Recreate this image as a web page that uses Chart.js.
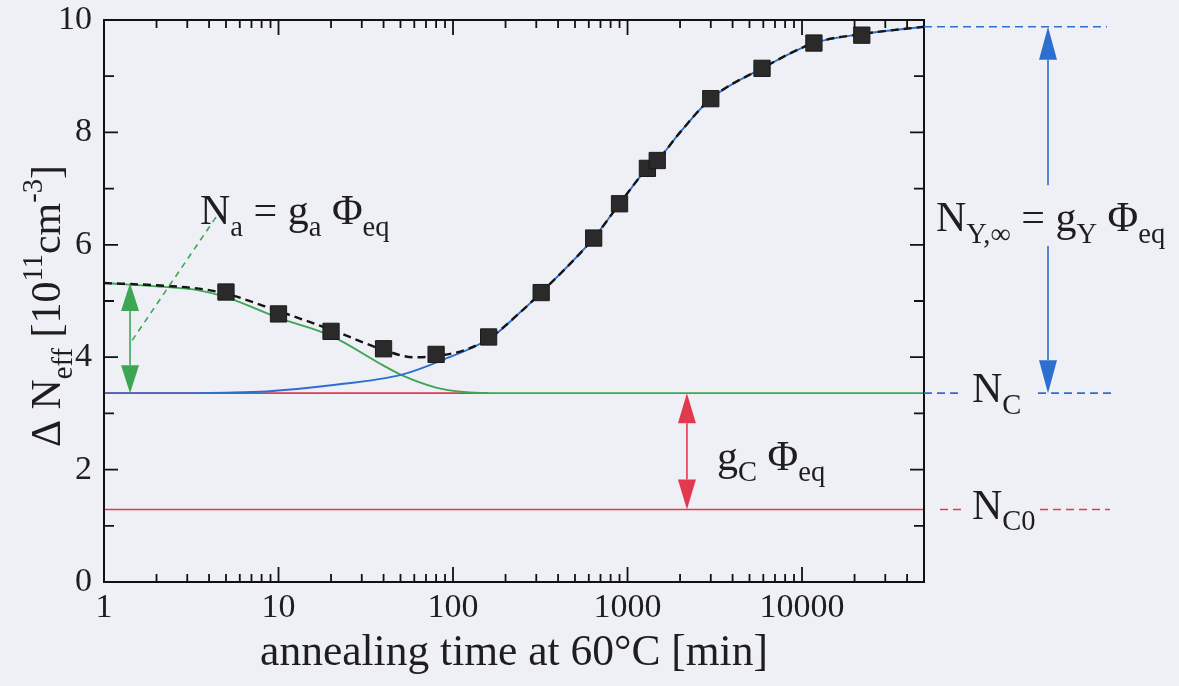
<!DOCTYPE html>
<html>
<head>
<meta charset="utf-8">
<script src="https://cdn.jsdelivr.net/npm/chart.js@4.4.1/dist/chart.umd.min.js"></script>
<style>
    html, body { margin: 0; padding: 0; background: #eff0f5; }
</style>
</head>
<body>
<canvas id="grafica" width="1179" height="686"></canvas>
<script>
// puntos medidos (cuadrados negros)
const tiemposMedidos = [5, 10, 20, 40, 80, 160, 320, 640, 900, 1300, 1480, 3000, 5900, 11700, 22000];
const valoresMedidos = [5.16, 4.77, 4.46, 4.15, 4.05, 4.36, 5.15, 6.12, 6.73, 7.36, 7.50, 8.60, 9.14, 9.59, 9.73];

// curva total (negra discontinua)
const tiemposTotal = [1, 2, 3.5, 5, 10, 20, 40, 59, 80, 120, 167, 241, 320, 640, 900, 1300, 1480, 2000, 3000, 5900, 11700, 22000, 50000];
const valoresTotal = [5.32, 5.28, 5.22, 5.13, 4.82, 4.49, 4.13, 4.00, 4.02, 4.14, 4.37, 4.79, 5.15, 6.12, 6.73, 7.36, 7.50, 8.00, 8.60, 9.14, 9.59, 9.75, 9.88];

// N_C + N_Y (azul)
const tiemposY = [1, 2, 5, 8.5, 20, 51, 84, 167, 241, 320, 640, 900, 1300, 1480, 2000, 3000, 5900, 11700, 22000, 50000];
const valoresY = [3.36, 3.36, 3.37, 3.39, 3.50, 3.69, 3.93, 4.36, 4.79, 5.15, 6.12, 6.73, 7.36, 7.50, 8.00, 8.60, 9.14, 9.59, 9.75, 9.88];

// N_C + N_a (verde)
const tiemposA = [1, 2, 3.5, 5, 10, 20, 40, 50, 80, 115, 160, 50000];
const valoresA = [5.32, 5.26, 5.19, 5.07, 4.70, 4.38, 3.85, 3.69, 3.46, 3.38, 3.36, 3.36];

// niveles constantes (rojo)
const tiemposNC = [1, 160];
const valoresNC = [3.36, 3.36];
const tiemposNC0 = [1, 50000];
const valoresNC0 = [1.29, 1.29];

// ejes
const etiquetasX = [1, 10, 100, 1000, 10000];
const etiquetasY = [0, 2, 4, 6, 8, 10];
const menoresY = [1, 3, 5, 7, 9];

const VERDE = '#3ea653';
const ROJO = '#e2394f';
const AZUL = '#2d6fd0';
const TEXTO = '#1e1e1e';
const FUENTE = "'Liberation Serif', 'DejaVu Serif', serif";

function puntos(xs, ys) {
    return xs.map((x, i) => ({ x: x, y: ys[i] }));
}

function fuente(tam) {
    return `${tam}px ${FUENTE}`;
}

// texto con subindices / superindices
function textoRico(ctx, partes, x, y, tam, alinear) {
    const medir = (p) => {
        ctx.font = fuente(p[1] ? tam * 0.68 : tam);
        return ctx.measureText(p[0]).width;
    };
    let total = 0;
    partes.forEach(p => total += medir(p));
    let cx = alinear === 'center' ? x - total / 2 : x;
    ctx.textAlign = 'left';
    ctx.textBaseline = 'alphabetic';
    ctx.fillStyle = TEXTO;
    partes.forEach(p => {
        const w = medir(p);
        let dy = 0;
        if (p[1] === 'sub') dy = tam * 0.28;
        if (p[1] === 'sup') dy = -tam * 0.42;
        ctx.fillText(p[0], cx, y + dy);
        cx += w;
    });
}

function flechaDoble(ctx, x, yArriba, yAbajo, color, ancho, largo) {
    ctx.save();
    ctx.strokeStyle = color;
    ctx.fillStyle = color;
    ctx.lineWidth = 1.6;
    ctx.beginPath();
    ctx.moveTo(x, yArriba + largo);
    ctx.lineTo(x, yAbajo - largo);
    ctx.stroke();
    ctx.beginPath();
    ctx.moveTo(x, yArriba);
    ctx.lineTo(x - ancho / 2, yArriba + largo);
    ctx.lineTo(x + ancho / 2, yArriba + largo);
    ctx.closePath();
    ctx.fill();
    ctx.beginPath();
    ctx.moveTo(x, yAbajo);
    ctx.lineTo(x - ancho / 2, yAbajo - largo);
    ctx.lineTo(x + ancho / 2, yAbajo - largo);
    ctx.closePath();
    ctx.fill();
    ctx.restore();
}

function lineaDiscontinua(ctx, x1, y1, x2, y2, color, patron) {
    ctx.save();
    ctx.strokeStyle = color;
    ctx.lineWidth = 1.6;
    ctx.setLineDash(patron);
    ctx.beginPath();
    ctx.moveTo(x1, y1);
    ctx.lineTo(x2, y2);
    ctx.stroke();
    ctx.restore();
}

// marco y marcas hacia dentro
const marco = {
    id: 'marco',
    afterDatasetsDraw(chart) {
        const { ctx, chartArea: a, scales: { x, y } } = chart;
        ctx.save();
        ctx.strokeStyle = '#111';
        ctx.lineWidth = 2;
        ctx.strokeRect(a.left, a.top, a.right - a.left, a.bottom - a.top);
        ctx.lineWidth = 1.8;
        ctx.beginPath();
        etiquetasY.concat(menoresY).forEach(v => {
            const py = y.getPixelForValue(v);
            const l = etiquetasY.includes(v) ? 14 : 10;
            ctx.moveTo(a.left, py); ctx.lineTo(a.left + l, py);
            ctx.moveTo(a.right, py); ctx.lineTo(a.right - l, py);
        });
        etiquetasX.forEach(d => {
            for (let k = 1; k <= 9; k++) {
                const v = k * d;
                if (v > x.max) break;
                const px = x.getPixelForValue(v);
                const l = k === 1 ? 15 : 8;
                ctx.moveTo(px, a.bottom); ctx.lineTo(px, a.bottom - l);
                ctx.moveTo(px, a.top); ctx.lineTo(px, a.top + l);
            }
        });
        ctx.stroke();
        ctx.restore();
    }
};

// flechas, textos y lineas de referencia
const anotaciones = {
    id: 'anotaciones',
    afterDraw(chart) {
        const { ctx, chartArea: a, scales: { x, y } } = chart;
        const yNC = y.getPixelForValue(valoresNC[0]);
        const yNC0 = y.getPixelForValue(valoresNC0[0]);
        const yInf = y.getPixelForValue(valoresY[valoresY.length - 1]);

        // titulo eje y
        ctx.save();
        ctx.translate(60, (a.top + a.bottom) / 2 + 5);
        ctx.rotate(-Math.PI / 2);
        textoRico(ctx, [['Δ N', ''], ['eff', 'sub'], [' [10', ''], ['11', 'sup'], ['cm', ''], ['-3', 'sup'], [']', '']], 0, 0, 42, 'center');
        ctx.restore();

        // flecha verde N_a
        flechaDoble(ctx, x.getPixelForValue(1.41), y.getPixelForValue(valoresA[0]), yNC, VERDE, 18, 28);
        lineaDiscontinua(ctx, x.getPixelForValue(1.45), y.getPixelForValue(4.3), x.getPixelForValue(4.4), y.getPixelForValue(6.5), VERDE, [6, 5]);
        textoRico(ctx, [['N', ''], ['a', 'sub'], [' = g', ''], ['a', 'sub'], [' Φ', ''], ['eq', 'sub']],
            x.getPixelForValue(3.55), y.getPixelForValue(6.37), 42, 'left');

        // flecha roja g_C
        flechaDoble(ctx, x.getPixelForValue(2190), yNC, yNC0, ROJO, 18, 30);
        textoRico(ctx, [['g', ''], ['C', 'sub'], [' Φ', ''], ['eq', 'sub']],
            x.getPixelForValue(3260), y.getPixelForValue(2.0), 42, 'left');

        // lado derecho
        const xf = a.right + 124;
        lineaDiscontinua(ctx, a.right, yInf, a.right + 183, yInf, AZUL, [8, 5]);
        lineaDiscontinua(ctx, a.right, yNC, a.right + 36, yNC, AZUL, [8, 5]);
        lineaDiscontinua(ctx, a.right + 114, yNC, a.right + 189, yNC, AZUL, [8, 5]);
        lineaDiscontinua(ctx, a.right + 16, yNC0, a.right + 38, yNC0, ROJO, [8, 5]);
        lineaDiscontinua(ctx, a.right + 116, yNC0, a.right + 186, yNC0, ROJO, [8, 5]);

        ctx.save();
        ctx.strokeStyle = AZUL;
        ctx.fillStyle = AZUL;
        ctx.lineWidth = 1.6;
        ctx.beginPath();
        ctx.moveTo(xf, yInf + 33); ctx.lineTo(xf, y.getPixelForValue(7.06));
        ctx.moveTo(xf, y.getPixelForValue(5.98)); ctx.lineTo(xf, yNC - 33);
        ctx.stroke();
        ctx.beginPath();
        ctx.moveTo(xf, yInf); ctx.lineTo(xf - 9, yInf + 33); ctx.lineTo(xf + 9, yInf + 33); ctx.closePath();
        ctx.moveTo(xf, yNC); ctx.lineTo(xf - 9, yNC - 33); ctx.lineTo(xf + 9, yNC - 33); ctx.closePath();
        ctx.fill();
        ctx.restore();

        textoRico(ctx, [['N', ''], ['Y,∞', 'sub'], [' = g', ''], ['Y', 'sub'], [' Φ', ''], ['eq', 'sub']],
            a.right + 12, y.getPixelForValue(6.25), 42, 'left');
        textoRico(ctx, [['N', ''], ['C', 'sub']], a.right + 48, yNC + 9, 42, 'left');
        textoRico(ctx, [['N', ''], ['C0', 'sub']], a.right + 48, yNC0 + 9, 42, 'left');
    }
};

let grafica;

function inicializar() {
    const ctx = document.getElementById('grafica').getContext('2d');

    grafica = new Chart(ctx, {
        type: 'scatter',
        data: {
            datasets: [{
                label: 'medidas',
                data: puntos(tiemposMedidos, valoresMedidos),
                pointStyle: 'rect',
                pointRadius: 11.5,
                backgroundColor: '#2a2a2a',
                borderColor: '#1a1a1a',
                borderWidth: 1,
                showLine: false
            }, {
                label: 'total',
                data: puntos(tiemposTotal, valoresTotal),
                showLine: true,
                borderColor: '#161616',
                borderWidth: 2.4,
                borderDash: [8, 5],
                pointRadius: 0,
                cubicInterpolationMode: 'monotone'
            }, {
                label: 'N_Y',
                data: puntos(tiemposY, valoresY),
                showLine: true,
                borderColor: AZUL,
                borderWidth: 1.9,
                pointRadius: 0,
                cubicInterpolationMode: 'monotone'
            }, {
                label: 'N_a',
                data: puntos(tiemposA, valoresA),
                showLine: true,
                borderColor: VERDE,
                borderWidth: 1.9,
                pointRadius: 0,
                cubicInterpolationMode: 'monotone'
            }, {
                label: 'N_C',
                data: puntos(tiemposNC, valoresNC),
                showLine: true,
                borderColor: ROJO,
                borderWidth: 1.7,
                pointRadius: 0
            }, {
                label: 'N_C0',
                data: puntos(tiemposNC0, valoresNC0),
                showLine: true,
                borderColor: ROJO,
                borderWidth: 1.7,
                pointRadius: 0
            }]
        },
        options: {
            responsive: false,
            animation: false,
            devicePixelRatio: 1,
            layout: {
                padding: { top: 20, right: 255, bottom: 0, left: 0 }
            },
            plugins: {
                legend: { display: false },
                tooltip: { enabled: false }
            },
            scales: {
                x: {
                    type: 'logarithmic',
                    min: 1,
                    max: 50000,
                    grid: { display: false, drawTicks: false },
                    border: { display: false },
                    afterBuildTicks: (scale) => {
                        scale.ticks = etiquetasX.map(v => ({ value: v }));
                    },
                    afterFit: (scale) => {
                        scale.height = 104;
                        scale.paddingLeft = 0;
                        scale.paddingRight = 0;
                    },
                    ticks: {
                        autoSkip: false,
                        maxRotation: 0,
                        padding: 6,
                        color: TEXTO,
                        font: { family: FUENTE, size: 34 },
                        callback: (v) => String(v)
                    },
                    title: {
                        display: true,
                        text: 'annealing time at 60°C [min]',
                        color: TEXTO,
                        font: { family: FUENTE, size: 43.5 },
                        padding: { top: 0, bottom: 6 }
                    }
                },
                y: {
                    min: 0,
                    max: 10,
                    grid: { display: false, drawTicks: false },
                    border: { display: false },
                    afterBuildTicks: (scale) => {
                        scale.ticks = etiquetasY.map(v => ({ value: v }));
                    },
                    afterFit: (scale) => {
                        scale.width = 104;
                        scale.paddingTop = 0;
                        scale.paddingBottom = 0;
                    },
                    ticks: {
                        padding: 12,
                        color: TEXTO,
                        font: { family: FUENTE, size: 34 }
                    }
                }
            }
        },
        plugins: [marco, anotaciones]
    });
}

document.addEventListener('DOMContentLoaded', (event) => {
    inicializar();
});
</script>
</body>
</html>
